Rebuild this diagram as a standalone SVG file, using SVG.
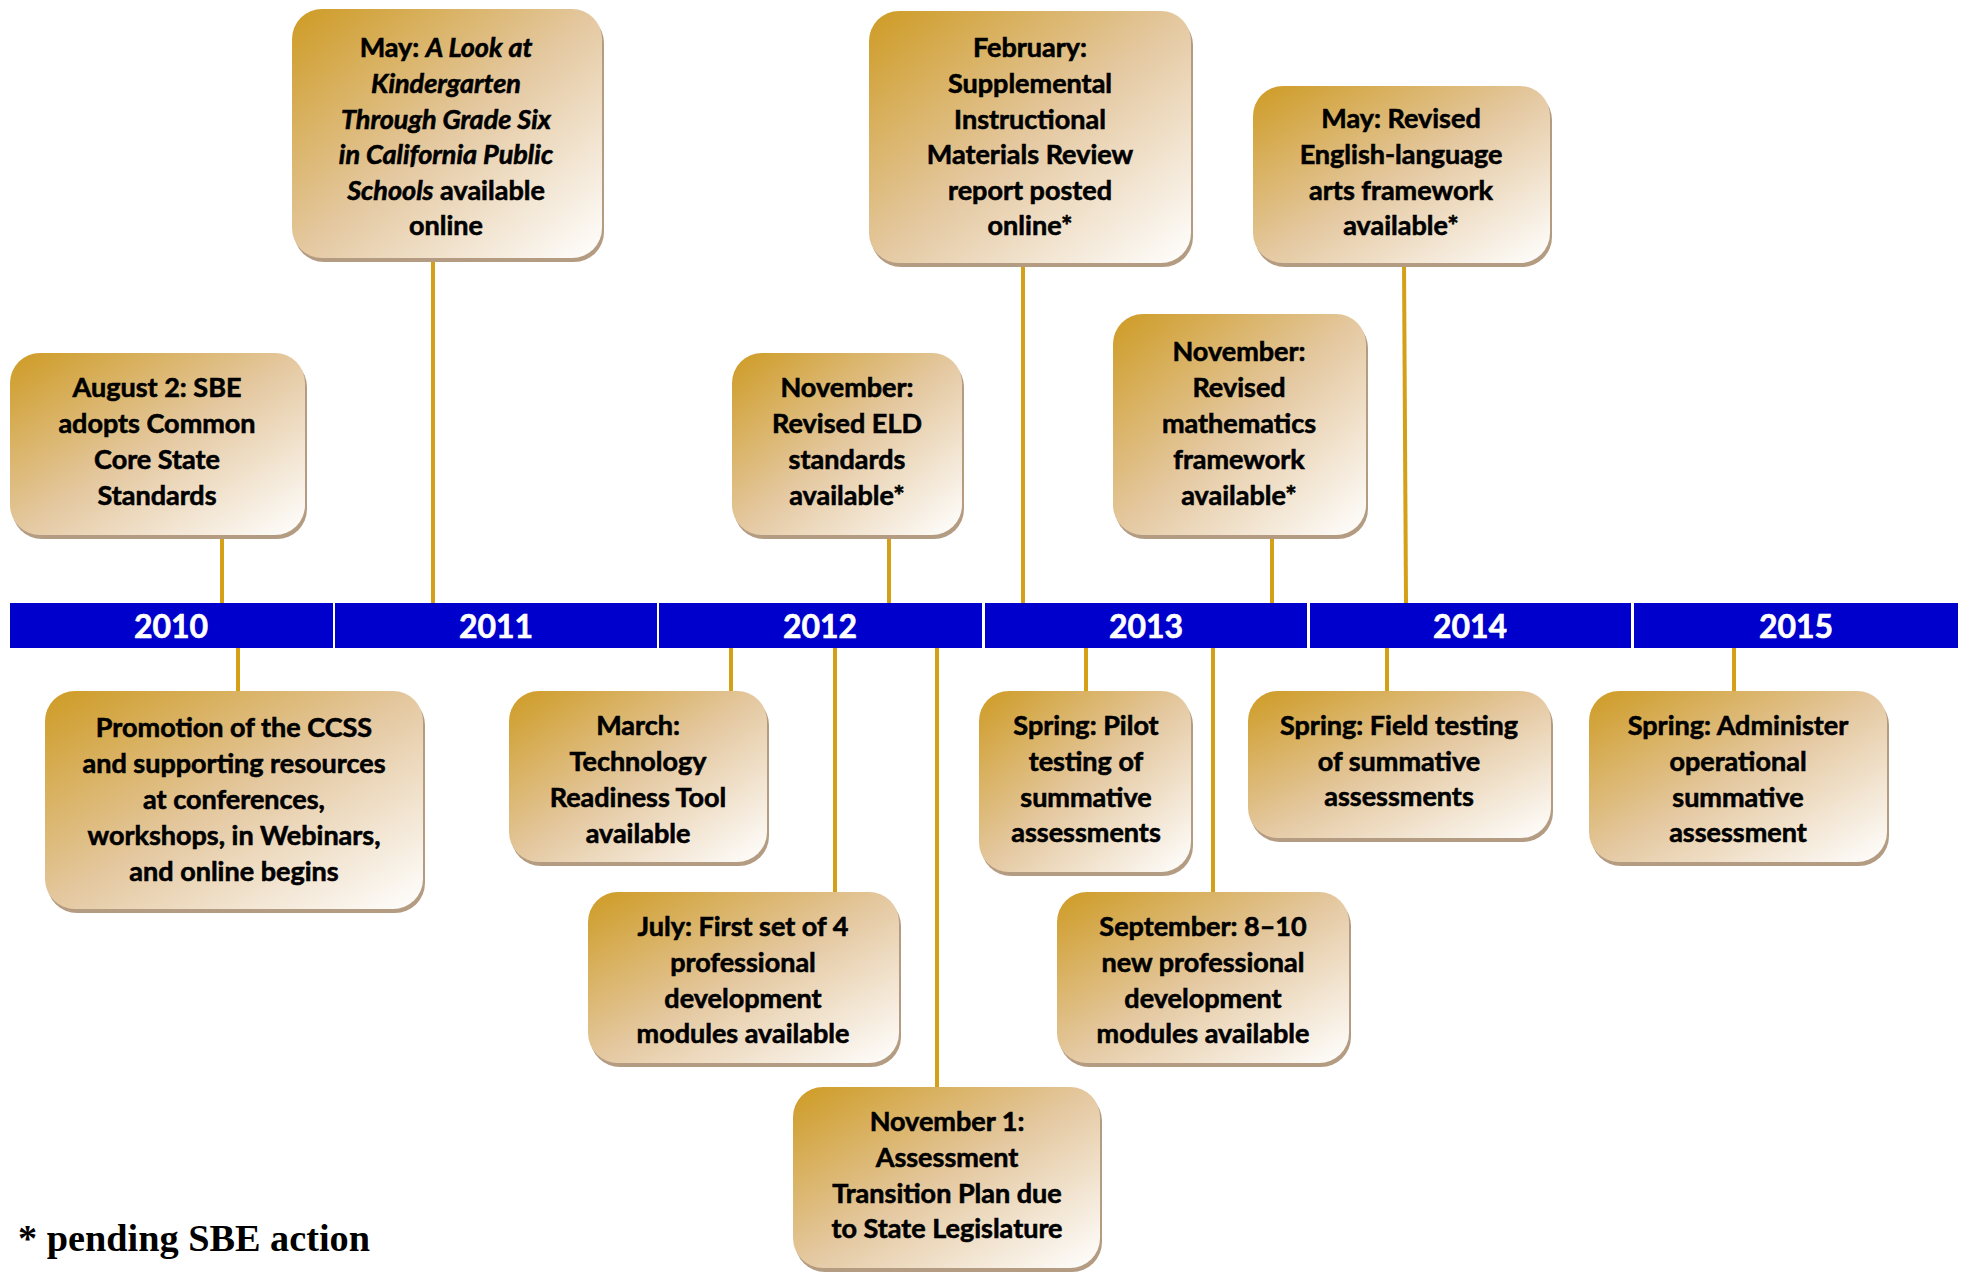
<svg xmlns="http://www.w3.org/2000/svg" width="1965" height="1272" viewBox="0 0 1965 1272">
<defs>
<linearGradient id="gold" x1="0" y1="0" x2="1" y2="1">
<stop offset="0" stop-color="#CE9B24"/>
<stop offset="0.5" stop-color="#E4C8A0"/>
<stop offset="1" stop-color="#FFFFFF"/>
</linearGradient>
</defs>
<style>
.shadow{fill:#B49C82}
.box{fill:url(#gold)}
.t{font-family:Lato,"Open Sans","DejaVu Sans",sans-serif;font-weight:bold;font-size:27px;fill:#000;stroke:#000;stroke-width:0.6px;text-anchor:middle}
.conn line{stroke:#D4A017;stroke-width:4}
.bar{fill:#0000CC}
.yr{font-family:Lato,"Open Sans","DejaVu Sans",sans-serif;font-weight:bold;font-size:32px;fill:#fff;stroke:#fff;stroke-width:0.6px;text-anchor:middle}
.it{font-style:italic}
.note{font-family:"Liberation Serif","Times New Roman",serif;font-weight:bold;font-size:37px;fill:#000}
</style>
<rect width="1965" height="1272" fill="#fff"/>
<g id="connectors" class="conn">
<line x1="222" y1="535" x2="222" y2="603"/>
<line x1="433" y1="258" x2="433" y2="603"/>
<line x1="1023" y1="263" x2="1023" y2="603"/>
<line x1="1404" y1="263" x2="1406" y2="603"/>
<line x1="889" y1="535" x2="889" y2="603"/>
<line x1="1272" y1="535" x2="1272" y2="603"/>
<line x1="238" y1="648" x2="238" y2="691"/>
<line x1="731" y1="648" x2="731" y2="691"/>
<line x1="835" y1="648" x2="835" y2="892"/>
<line x1="937" y1="648" x2="937" y2="1087"/>
<line x1="1086" y1="648" x2="1086" y2="691"/>
<line x1="1213" y1="648" x2="1213" y2="892"/>
<line x1="1387" y1="648" x2="1387" y2="691"/>
<line x1="1734" y1="648" x2="1734" y2="691"/>
</g>
<g id="timeline">
<rect class="bar" x="10" y="603" width="323" height="45"/>
<rect class="bar" x="335" y="603" width="322" height="45"/>
<rect class="bar" x="659" y="603" width="323" height="45"/>
<rect class="bar" x="985" y="603" width="322" height="45"/>
<rect class="bar" x="1310" y="603" width="321" height="45"/>
<rect class="bar" x="1634" y="603" width="324" height="45"/>
<text class="yr" x="171" y="638">2010</text>
<text class="yr" x="496" y="638">2011</text>
<text class="yr" x="820" y="638">2012</text>
<text class="yr" x="1146" y="638">2013</text>
<text class="yr" x="1470" y="638">2014</text>
<text class="yr" x="1796" y="638">2015</text>
</g>
<g id="n1">
<rect class="shadow" x="12" y="357" width="295" height="182" rx="30"/>
<rect class="box" x="10" y="353" width="295" height="182" rx="30"/>
<text class="t" x="157" y="397">August 2: SBE</text>
<text class="t" x="157" y="433">adopts Common</text>
<text class="t" x="157" y="469">Core State</text>
<text class="t" x="157" y="505">Standards</text>
</g>
<g id="n2">
<rect class="shadow" x="294" y="13" width="310" height="249" rx="30"/>
<rect class="box" x="292" y="9" width="310" height="249" rx="30"/>
<text class="t" x="446" y="57">May: <tspan class="it">A Look at</tspan></text>
<text class="t it" x="446" y="93">Kindergarten</text>
<text class="t it" x="446" y="129">Through Grade Six</text>
<text class="t it" x="446" y="164">in California Public</text>
<text class="t" x="446" y="200"><tspan class="it">Schools</tspan> available</text>
<text class="t" x="446" y="235">online</text>
</g>
<g id="n3">
<rect class="shadow" x="871" y="15" width="322" height="252" rx="30"/>
<rect class="box" x="869" y="11" width="322" height="252" rx="30"/>
<text class="t" x="1030" y="57">February:</text>
<text class="t" x="1030" y="93">Supplemental</text>
<text class="t" x="1030" y="129">Instructional</text>
<text class="t" x="1030" y="164">Materials Review</text>
<text class="t" x="1030" y="200">report posted</text>
<text class="t" x="1030" y="235">online*</text>
</g>
<g id="n4">
<rect class="shadow" x="1255" y="90" width="297" height="177" rx="30"/>
<rect class="box" x="1253" y="86" width="297" height="177" rx="30"/>
<text class="t" x="1401" y="128">May: Revised</text>
<text class="t" x="1401" y="164">English-language</text>
<text class="t" x="1401" y="200">arts framework</text>
<text class="t" x="1401" y="235">available*</text>
</g>
<g id="n5">
<rect class="shadow" x="734" y="357" width="230" height="182" rx="30"/>
<rect class="box" x="732" y="353" width="230" height="182" rx="30"/>
<text class="t" x="847" y="397">November:</text>
<text class="t" x="847" y="433">Revised ELD</text>
<text class="t" x="847" y="469">standards</text>
<text class="t" x="847" y="505">available*</text>
</g>
<g id="n6">
<rect class="shadow" x="1115" y="318" width="253" height="221" rx="30"/>
<rect class="box" x="1113" y="314" width="253" height="221" rx="30"/>
<text class="t" x="1239" y="361">November:</text>
<text class="t" x="1239" y="397">Revised</text>
<text class="t" x="1239" y="433">mathematics</text>
<text class="t" x="1239" y="469">framework</text>
<text class="t" x="1239" y="505">available*</text>
</g>
<g id="n7">
<rect class="shadow" x="47" y="695" width="378" height="218" rx="30"/>
<rect class="box" x="45" y="691" width="378" height="218" rx="30"/>
<text class="t" x="234" y="737">Promotion of the CCSS</text>
<text class="t" x="234" y="773">and supporting resources</text>
<text class="t" x="234" y="809">at conferences,</text>
<text class="t" x="234" y="845">workshops, in Webinars,</text>
<text class="t" x="234" y="881">and online begins</text>
</g>
<g id="n8">
<rect class="shadow" x="511" y="695" width="258" height="171" rx="30"/>
<rect class="box" x="509" y="691" width="258" height="171" rx="30"/>
<text class="t" x="638" y="735">March:</text>
<text class="t" x="638" y="771">Technology</text>
<text class="t" x="638" y="807">Readiness Tool</text>
<text class="t" x="638" y="843">available</text>
</g>
<g id="n9">
<rect class="shadow" x="590" y="896" width="311" height="171" rx="30"/>
<rect class="box" x="588" y="892" width="311" height="171" rx="30"/>
<text class="t" x="743" y="936">July: First set of 4</text>
<text class="t" x="743" y="972">professional</text>
<text class="t" x="743" y="1008">development</text>
<text class="t" x="743" y="1043">modules available</text>
</g>
<g id="n10">
<rect class="shadow" x="795" y="1091" width="307" height="181" rx="30"/>
<rect class="box" x="793" y="1087" width="307" height="181" rx="30"/>
<text class="t" x="947" y="1131">November 1:</text>
<text class="t" x="947" y="1167">Assessment</text>
<text class="t" x="947" y="1203">Transition Plan due</text>
<text class="t" x="947" y="1238">to State Legislature</text>
</g>
<g id="n11">
<rect class="shadow" x="981" y="695" width="212" height="181" rx="30"/>
<rect class="box" x="979" y="691" width="212" height="181" rx="30"/>
<text class="t" x="1086" y="735">Spring: Pilot</text>
<text class="t" x="1086" y="771">testing of</text>
<text class="t" x="1086" y="807">summative</text>
<text class="t" x="1086" y="842">assessments</text>
</g>
<g id="n12">
<rect class="shadow" x="1059" y="896" width="292" height="171" rx="30"/>
<rect class="box" x="1057" y="892" width="292" height="171" rx="30"/>
<text class="t" x="1203" y="936">September: 8–10</text>
<text class="t" x="1203" y="972">new professional</text>
<text class="t" x="1203" y="1008">development</text>
<text class="t" x="1203" y="1043">modules available</text>
</g>
<g id="n13">
<rect class="shadow" x="1250" y="695" width="303" height="147" rx="30"/>
<rect class="box" x="1248" y="691" width="303" height="147" rx="30"/>
<text class="t" x="1399" y="735">Spring: Field testing</text>
<text class="t" x="1399" y="771">of summative</text>
<text class="t" x="1399" y="806">assessments</text>
</g>
<g id="n14">
<rect class="shadow" x="1591" y="695" width="298" height="171" rx="30"/>
<rect class="box" x="1589" y="691" width="298" height="171" rx="30"/>
<text class="t" x="1738" y="735">Spring: Administer</text>
<text class="t" x="1738" y="771">operational</text>
<text class="t" x="1738" y="807">summative</text>
<text class="t" x="1738" y="842">assessment</text>
</g>
<text class="note" x="18" y="1251" textLength="352" lengthAdjust="spacingAndGlyphs">* pending SBE action</text>
</svg>
